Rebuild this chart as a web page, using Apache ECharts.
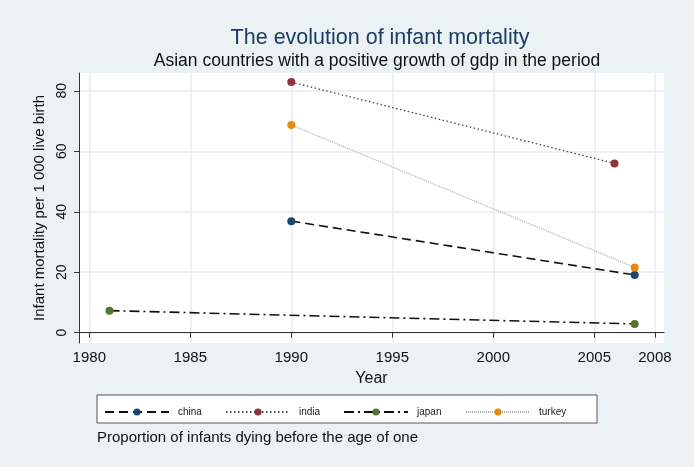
<!DOCTYPE html>
<html>
<head>
<meta charset="utf-8">
<script src="https://cdn.jsdelivr.net/npm/echarts@6/dist/echarts.min.js"></script>
<style>
  html, body { margin: 0; padding: 0; background: #eaf2f3; }
  #chart { width: 694px; height: 467px; }
</style>
</head>
<body>
<div id="chart"></div>
<script>
// data: [year, deaths per 1 000 live births]
const china = [[1990, 36.9], [2007, 19.1]];
const india = [[1990, 82.9], [2006, 56.0]];
const japan = [[1981, 7.3], [2007, 2.9]];
const turkey = [[1990, 68.7], [2007, 21.6]];
const xTicks = [1980, 1985, 1990, 1995, 2000, 2005, 2008];
const yTicks = [0, 20, 40, 60, 80];

const FONT = 'Liberation Sans, Arial, sans-serif';

// series styles (Stata-ish)
const styles = {
  china:  { color: '#1a476f', line: { color: '#111', width: 1.6, type: [9, 5] } },
  india:  { color: '#90353b', line: { color: '#444', width: 1.3, type: [1.5, 2.5] } },
  japan:  { color: '#55752f', line: { color: '#111', width: 1.6, type: [10, 4, 2, 4] } },
  turkey: { color: '#e8890c', line: { color: '#aaa', width: 1.2, type: [1, 1] } }
};

function mkSeries(name, data) {
  const s = styles[name];
  return {
    name, type: 'line', data,
    symbol: 'circle', symbolSize: 8,
    itemStyle: { color: s.color },
    lineStyle: s.line,
    emphasis: { disabled: true },
    z: 3
  };
}

// one legend per entry so spacing matches the boxed legend
const legendX = [99, 220, 338, 460];
const names = ['china', 'india', 'japan', 'turkey'];
const legends = names.map((n, i) => ({
  data: [n], left: legendX[i], top: 402,
  itemWidth: 64, itemHeight: 9, selectedMode: false,
  textStyle: { fontFamily: FONT, fontSize: 10, color: '#222', padding: [0, 0, 0, 4] }
}));

const chart = echarts.init(document.getElementById('chart'));
chart.setOption({
  backgroundColor: '#eaf2f3',
  animation: false,
  title: [
    { text: 'The evolution of infant mortality', left: 375, top: 22, textAlign: 'center',
      textStyle: { fontFamily: FONT, fontSize: 21.5, fontWeight: 'normal', color: '#1e3b66' } },
    { text: 'Asian countries with a positive growth of gdp in the period', left: 372, top: 47, textAlign: 'center',
      textStyle: { fontFamily: FONT, fontSize: 17.5, fontWeight: 'normal', color: '#111' } },
    { text: 'Proportion of infants dying before the age of one', left: 92, top: 425,
      textStyle: { fontFamily: FONT, fontSize: 15, fontWeight: 'normal', color: '#111' } }
  ],
  graphic: [
    { type: 'rect', shape: { x: 97, y: 395, width: 500, height: 28 },
      style: { fill: '#fff', stroke: '#555', lineWidth: 1 }, z: -1 }
  ],
  legend: legends,
  grid: { left: 79, right: 30, top: 73, bottom: 124, show: true, backgroundColor: '#fff', borderWidth: 0 },
  xAxis: {
    type: 'value', min: 1979.49, max: 2008.45,
    name: 'Year', nameLocation: 'middle', nameGap: 28,
    nameTextStyle: { fontFamily: FONT, fontSize: 16, color: '#111' },
    axisLine: { lineStyle: { color: '#333' } },
    axisTick: { length: 5, lineStyle: { color: '#333' }, customValues: xTicks },
    axisLabel: { fontFamily: FONT, fontSize: 15, color: '#111', margin: 7, customValues: xTicks,
      formatter: v => String(v) },
    splitLine: { show: true, lineStyle: { color: '#e6eef0', width: 1.5 } }
  },
  yAxis: {
    type: 'value', min: -3.4, max: 85.9,
    name: 'Infant mortality per 1 000 live birth', nameLocation: 'middle', nameGap: 25,
    nameTextStyle: { fontFamily: FONT, fontSize: 15, color: '#111' },
    axisLine: { show: true, lineStyle: { color: '#333' } },
    axisTick: { show: true, length: 5, lineStyle: { color: '#333' }, customValues: yTicks },
    axisLabel: { fontFamily: FONT, fontSize: 14, color: '#111', rotate: 90, margin: 10, customValues: yTicks },
    splitLine: { show: true, lineStyle: { color: '#e6eef0', width: 1.5 } }
  },
  series: [
    mkSeries('china', china),
    mkSeries('india', india),
    mkSeries('japan', japan),
    mkSeries('turkey', turkey)
  ]
});
</script>
</body>
</html>
